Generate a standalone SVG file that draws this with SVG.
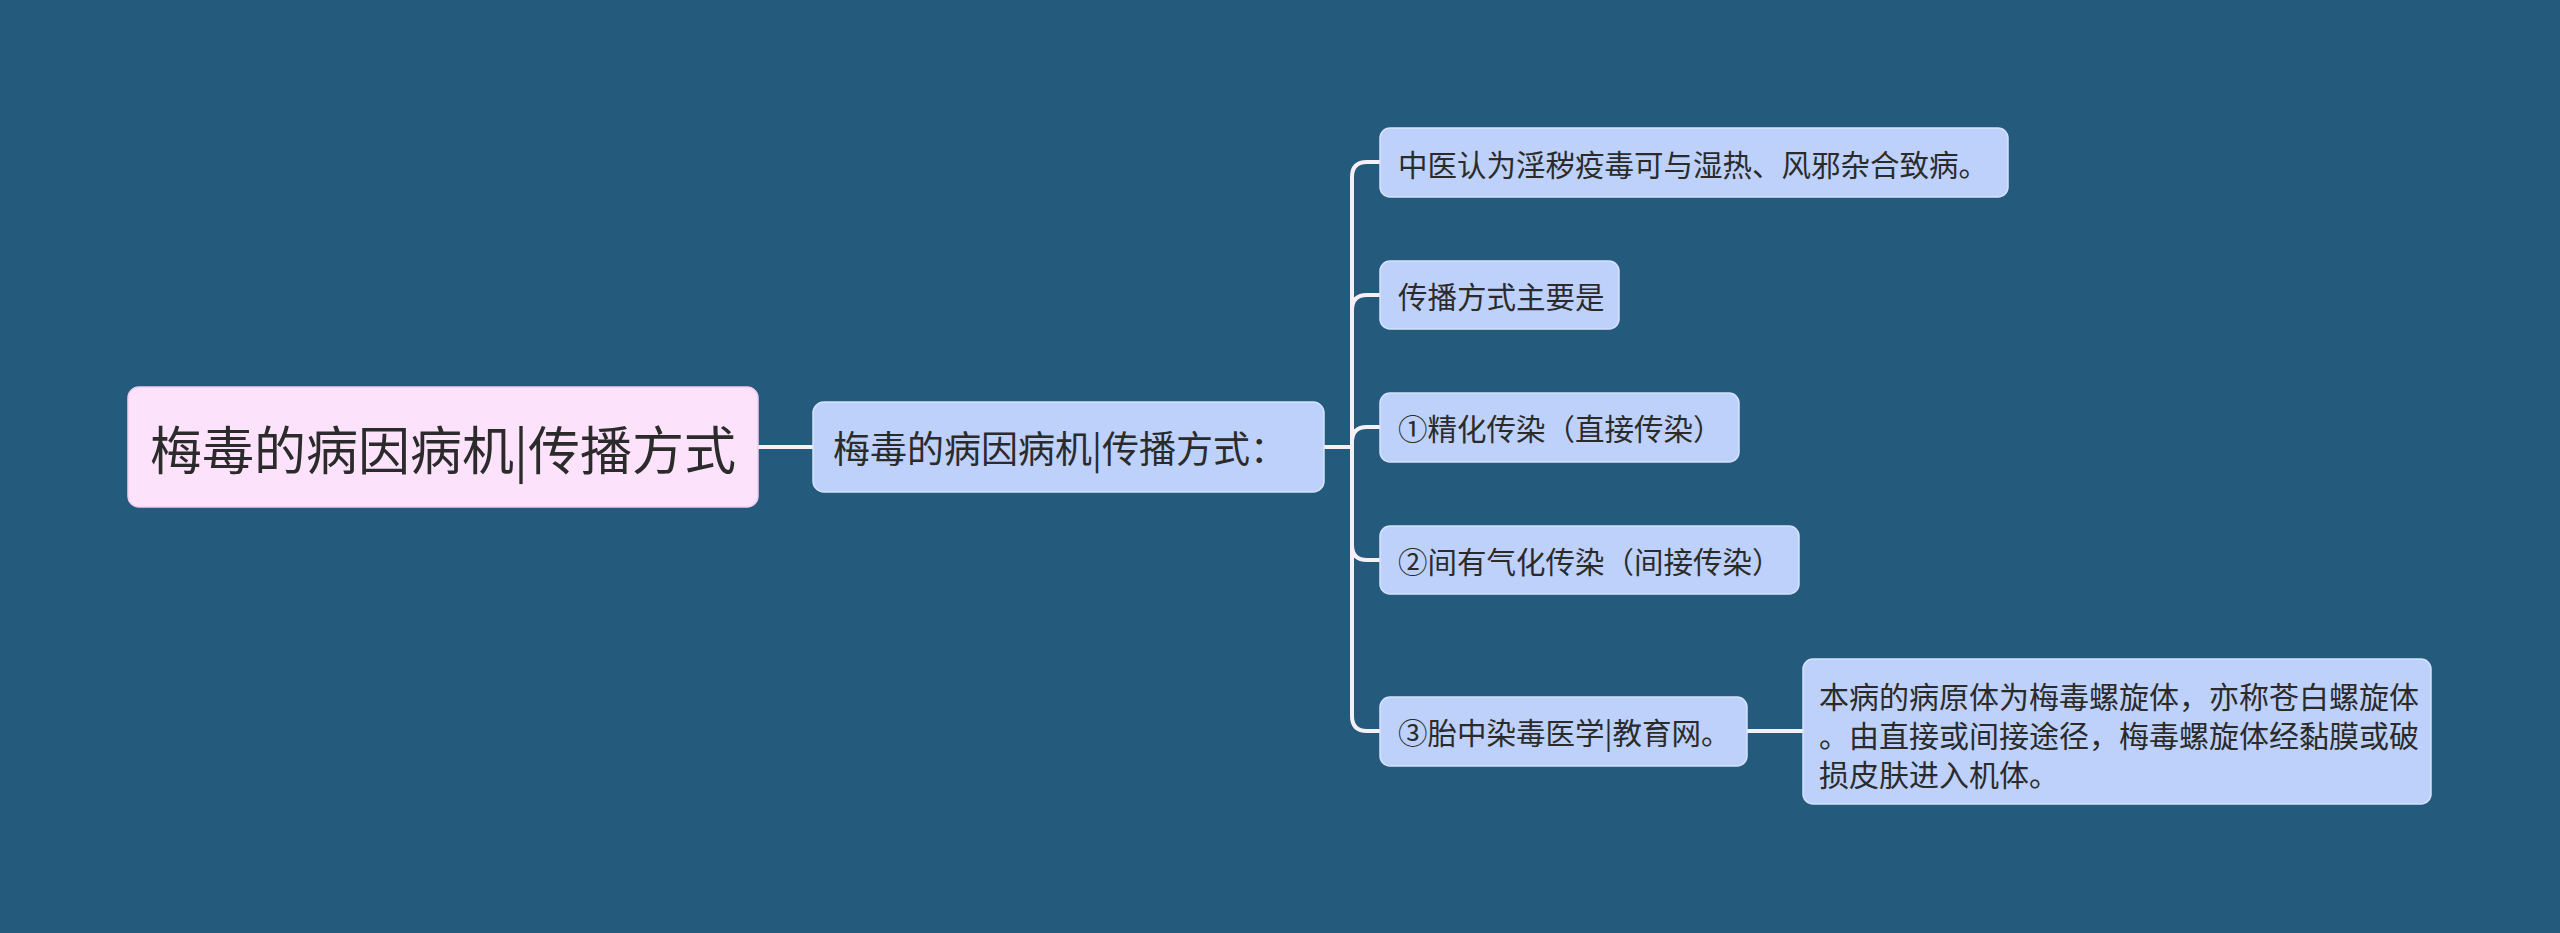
<svg xmlns="http://www.w3.org/2000/svg" width="2560" height="933" viewBox="0 0 2560 933">
<style>
text{font-family:"Noto Sans CJK SC","Noto Sans",sans-serif;fill:#2b2b2b;dominant-baseline:central}
.root{fill:#fde2fc;stroke:#f2cdee;stroke-width:1.5}
.sub{fill:#bdd1fb;stroke:#d5e2fe;stroke-width:1.5}
.ln{fill:none;stroke:#f6f0f6;stroke-width:4;stroke-linecap:round}
.t1{font-size:52px}
.t2{font-size:37px}
.t3{font-size:29.5px}
.t4{font-size:30px}
</style>
<rect width="2560" height="933" fill="#245a7b"/>
<g id="connectors">
<path class="ln" d="M758 447H813"/>
<path class="ln" d="M1324 447H1352V177Q1352 162 1367 162H1380"/>
<path class="ln" d="M1324 447H1352V310Q1352 295 1367 295H1380"/>
<path class="ln" d="M1324 447H1352V442Q1352 427 1367 427H1380"/>
<path class="ln" d="M1324 447H1352V545Q1352 560 1367 560H1380"/>
<path class="ln" d="M1324 447H1352V716Q1352 731 1367 731H1380"/>
<path class="ln" d="M1747 731H1803"/>
</g>
<g id="root">
<rect class="root" x="128" y="387" width="630" height="120" rx="11"/>
<text class="t1" x="443" y="447" text-anchor="middle">梅毒的病因病机|传播方式</text>
</g>
<g id="mid">
<rect class="sub" x="813" y="402" width="511" height="90" rx="11"/>
<text class="t2" x="833" y="447">梅毒的病因病机|传播方式：</text>
</g>
<g id="n1">
<rect class="sub" x="1380" y="128" width="628" height="69" rx="10"/>
<text class="t3" x="1398" y="163">中医认为淫秽疫毒可与湿热、风邪杂合致病。</text>
</g>
<g id="n2">
<rect class="sub" x="1380" y="261" width="239" height="68" rx="10"/>
<text class="t3" x="1398" y="295">传播方式主要是</text>
</g>
<g id="n3">
<rect class="sub" x="1380" y="393" width="359" height="69" rx="10"/>
<text class="t3" x="1398" y="427">①精化传染（直接传染）</text>
</g>
<g id="n4">
<rect class="sub" x="1380" y="526" width="419" height="68" rx="10"/>
<text class="t3" x="1398" y="560">②间有气化传染（间接传染）</text>
</g>
<g id="n5">
<rect class="sub" x="1380" y="697" width="367" height="69" rx="10"/>
<text class="t3" x="1398" y="731">③胎中染毒医学|教育网。</text>
</g>
<g id="n6">
<rect class="sub" x="1803" y="659" width="628" height="145" rx="10"/>
<text class="t4" x="1819" y="695">本病的病原体为梅毒螺旋体，亦称苍白螺旋体</text>
<text class="t4" x="1819" y="734">。由直接或间接途径，梅毒螺旋体经黏膜或破</text>
<text class="t4" x="1819" y="773">损皮肤进入机体。</text>
</g>
</svg>
